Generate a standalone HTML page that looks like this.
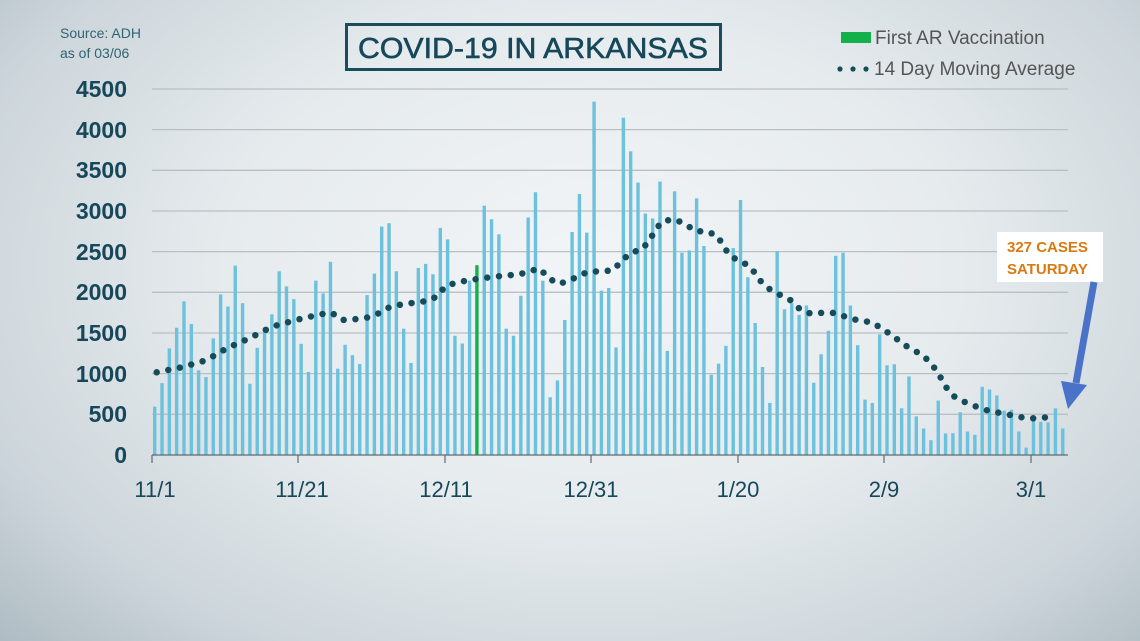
<!DOCTYPE html>
<html><head><meta charset="utf-8"><style>
html,body{margin:0;padding:0;width:1140px;height:641px;overflow:hidden}
body{background:radial-gradient(ellipse 72% 85% at 52% 42%,#f2f5f7 0%,#e6ebee 45%,#cdd6db 78%,#aebbc2 100%);font-family:"Liberation Sans",sans-serif}
svg{position:absolute;left:0;top:0}
</style></head><body>
<svg width="1140" height="641" viewBox="0 0 1140 641">
<g id="grid" stroke="#b9bfc3" stroke-width="1.3"></g>
<g id="bars"></g>
<polyline id="ma" fill="none" stroke="#164c5a" stroke-width="6.5" stroke-linecap="round" stroke-dasharray="0 11.8"></polyline>
<line x1="152" y1="455" x2="1068" y2="455" stroke="#5b6b73" stroke-width="1.2"/>
<g stroke="#5b6b73" stroke-width="1.2">
<line x1="152" y1="455" x2="152" y2="463"/><line x1="298" y1="455" x2="298" y2="463"/>
<line x1="445" y1="455" x2="445" y2="463"/><line x1="591" y1="455" x2="591" y2="463"/>
<line x1="738" y1="455" x2="738" y2="463"/><line x1="884" y1="455" x2="884" y2="463"/>
<line x1="1031" y1="455" x2="1031" y2="463"/></g>
<g font-size="23" font-weight="bold" fill="#17475a" text-anchor="end" font-family="Liberation Sans, sans-serif">
<text x="127" y="97">4500</text><text x="127" y="138">4000</text><text x="127" y="178">3500</text>
<text x="127" y="219">3000</text><text x="127" y="260">2500</text><text x="127" y="300">2000</text>
<text x="127" y="341">1500</text><text x="127" y="382">1000</text><text x="127" y="422">500</text>
<text x="127" y="463">0</text></g>
<g font-size="22" fill="#17475a" text-anchor="middle">
<text x="155" y="497">11/1</text><text x="302" y="497">11/21</text><text x="446" y="497">12/11</text>
<text x="591" y="497">12/31</text><text x="738" y="497">1/20</text><text x="884" y="497">2/9</text><text x="1031" y="497">3/1</text></g>
<text x="60" y="38" font-size="14" fill="#2f6470">Source: ADH</text>
<text x="60" y="58" font-size="14" fill="#2f6470">as of 03/06</text>
<rect x="346.5" y="24.5" width="374" height="45" fill="none" stroke="#1a4d5c" stroke-width="3"/>
<text x="533" y="58" font-size="29" fill="#17475a" stroke="#17475a" stroke-width="0.6" text-anchor="middle" textLength="350" lengthAdjust="spacingAndGlyphs">COVID-19 IN ARKANSAS</text>
<rect x="841" y="32" width="30" height="11" fill="#13b04b"/>
<text x="875" y="44" font-size="19" fill="#555">First AR Vaccination</text>
<circle cx="840" cy="69" r="2.6" fill="#164c5a"/><circle cx="853" cy="69" r="2.6" fill="#164c5a"/><circle cx="866" cy="69" r="2.6" fill="#164c5a"/>
<text x="874" y="75" font-size="19" fill="#555">14 Day Moving Average</text>
<rect x="997" y="232" width="106" height="50" fill="#ffffff"/>
<text x="1007" y="252" font-size="15" font-weight="bold" fill="#d97a10">327 CASES</text>
<text x="1007" y="274" font-size="15" font-weight="bold" fill="#d97a10">SATURDAY</text>
<line x1="1094" y1="282" x2="1076" y2="383" stroke="#4a72c8" stroke-width="7"/>
<polygon points="1061,381 1087,385 1068,409" fill="#4a72c8"/>
</svg>
<script>
var v=[595,884,1310,1565,1888,1611,1041,958,1433,1974,1825,2329,1867,876,1318,1565,1730,2259,2073,1916,1367,1020,2143,1987,2375,1061,1355,1227,1119,1966,2230,2808,2850,2259,1553,1132,2300,2350,2222,2792,2651,1466,1371,2143,2333,3065,2899,2713,1553,1466,1958,2920,3230,2143,710,917,1660,2742,3209,2734,4345,2020,2053,1322,4147,3734,3349,2969,2908,3362,1280,3242,2486,2515,3155,2569,987,1123,1342,2544,3135,2185,1623,1082,640,2507,1792,1867,1722,1838,888,1239,1528,2449,2486,1838,1350,681,640,1483,1103,1115,574,966,475,326,182,669,264,268,525,289,248,838,805,731,545,557,289,91,442,409,401,574,326];
var ns="http://www.w3.org/2000/svg",b=document.getElementById('bars'),g=document.getElementById('grid');
for(var i=1;i<=9;i++){var l=document.createElementNS(ns,'line');var y=455-i*40.67;l.setAttribute('x1',152);l.setAttribute('x2',1068);l.setAttribute('y1',y);l.setAttribute('y2',y);g.appendChild(l);}
for(var i=0;i<v.length;i++){var r=document.createElementNS(ns,'rect');var x=154.7+i*7.323;var h=v[i]/500*40.67;r.setAttribute('x',x-1.7);r.setAttribute('width',3.4);r.setAttribute('y',455-h);r.setAttribute('height',h);r.setAttribute('fill',i==44?'#13b04b':'#6cc2dc');b.appendChild(r);}
var p=[[156.7,372.3],[181.7,367.3],[206,360.3],[227.3,348],[249.3,338.3],[272,326.7],[296,320],[320.3,314.3],[331.7,312.7],[342,320],[354.3,319.3],[366.7,317.7],[378.7,313.3],[389.3,307.3],[402,304.3],[414.7,302.7],[426.7,301],[436.7,296.7],[445,286.7],[456.7,282.3],[469,280.3],[481.7,278.3],[506.7,275.3],[518.7,274.7],[529.7,271],[540,268.7],[548.3,278],[558.7,284],[570.7,280],[581.3,274.3],[591.3,271.3],[601.3,271.7],[613.3,270],[621.3,261.3],[630.3,253],[642,249.3],[649.7,240],[656,228.7],[663,221],[675,219.3],[686,224.7],[696,231.3],[706.7,231.3],[717.7,236],[723.7,247],[731.3,257],[742.7,261.7],[752.5,269.7],[759.5,280],[768.3,288.3],[779,294.3],[790.7,300.3],[799.7,309],[810.7,313.7],[823.7,312.7],[836,313],[847.7,317.7],[860,320.7],[872.3,322.3],[882.7,329.3],[893.3,336],[903,344.3],[914.3,350.3],[925,357.3],[933.3,366.3],[940.3,377],[946.7,388],[955,397.3],[966.3,402.7],[978,407.3],[990,411.3],[1002.7,413.3],[1014.7,416],[1027.3,418.3],[1039.7,418.3],[1052,416.3]];
document.getElementById('ma').setAttribute('points',p.map(function(q){return q.join(',')}).join(' '));
</script>
</body></html>
